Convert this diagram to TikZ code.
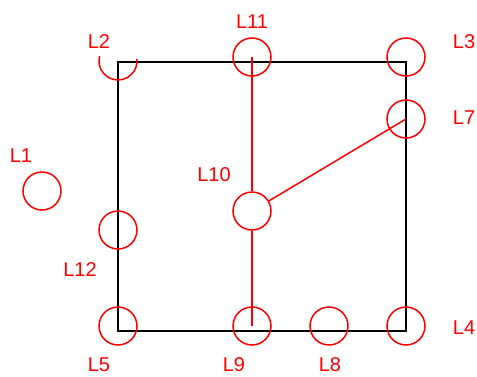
\documentclass[tikz,border=0pt]{standalone}
\usepackage{fontspec}
\setmainfont{Liberation Sans}
\usetikzlibrary{positioning}
\tikzset{
  lamp/.style={circle,draw=red,line width=1.5pt,minimum size=38pt,inner sep=0pt},
  lbl/.style={text=red,font=\fontsize{20}{22}\selectfont,inner sep=0pt},
  wire/.style={draw=red,line width=1.5pt},
  frame/.style={draw=black,line width=2pt},
}
\begin{document}
\begin{tikzpicture}[x=1pt,y=-1pt]
  \useasboundingbox (0,0) rectangle (477,376);
  \coordinate (nw) at (118,62);
  \coordinate (se) at (406,331);
  \draw[frame] (nw) rectangle (se);
  \foreach \n/\x/\y in {l1/42/191, l11/252/57, l3/406/57, l7/406/119, l10/252/211,
                        l12/118/230, l5/118/326, l9/252/326, l8/329/326, l4/406/326}
    \node[lamp] (\n) at (\x,\y) {};
  \coordinate (l2) at (118,61);
  \draw[wire] ([shift={(195:19)}]l2) arc[start angle=195,end angle=-6,radius=19];
  \draw[wire] (l11.center) -- (l10.north);
  \draw[wire] (l10.south) -- (l9.center);
  \draw[wire] (l10) -- (l7.center);
  \foreach \n/\t/\x/\y in {t1/L1/21/156, t2/L2/99/42, t11/L11/252/22, t3/L3/464/42,
                           t7/L7/464/118, t10/L10/214/175, t12/L12/80/270, t5/L5/99/365,
                           t9/L9/234/365, t8/L8/330/365, t4/L4/464/328}
    \node[lbl] (\n) at (\x,\y) {\t};
\end{tikzpicture}
\end{document}
